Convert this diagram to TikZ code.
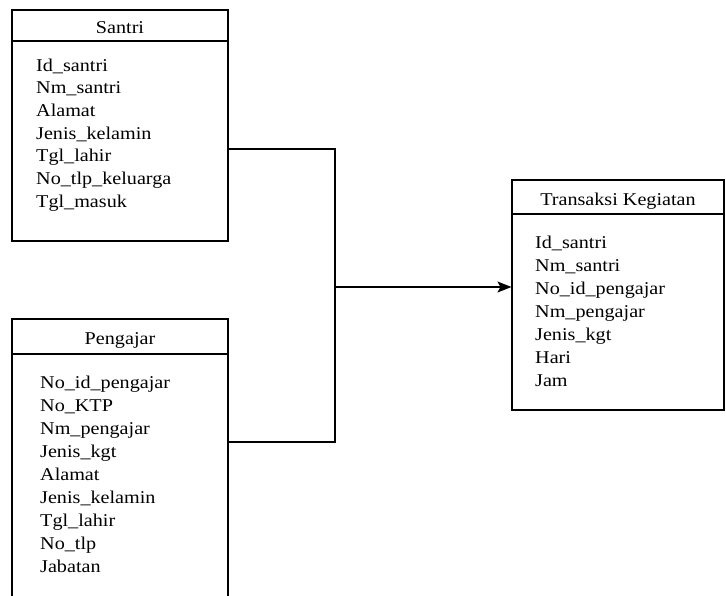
\documentclass[tikz,border=0pt]{standalone}
\usepackage{fontspec}
\setmainfont{Liberation Serif}[FakeStretch=1.12]
\usetikzlibrary{arrows.meta}
\tikzset{>={Stealth[length=14pt,width=11pt,inset=3pt]}}
\tikzset{
  tabel/.style={draw, line width=1.1pt, rectangle, inner sep=0pt, minimum width=216pt},
  judul/.style={tabel, text height=16pt, text depth=0pt},
  isi/.style={anchor=base west, inner sep=0pt}
}

\begin{document}
\begin{tikzpicture}[x=1pt, y=-1pt, font=\fontsize{18}{22.9}\selectfont]
\useasboundingbox (0,0) rectangle (726,595);
\clip (0,0) rectangle (726,595);
% santri
\node[judul, minimum height=31pt] (santriHead) at (120,25.5) {Santri};
\node[tabel, minimum height=200pt] (santri) at (120,141) {};
\foreach \txt [count=\i from 0] in {Id\_santri, Nm\_santri, Alamat, Jenis\_kelamin, Tgl\_lahir, No\_tlp\_keluarga, Tgl\_masuk}
  \node[isi] (santriRow\i) at (36,71+22.7*\i) {\txt};
% pengajar
\node[judul, minimum height=35pt] (pengajarHead) at (120,336.5) {Pengajar};
\node[tabel, minimum height=280pt] (pengajar) at (120,494) {};
\foreach \txt [count=\i from 0] in {No\_id\_pengajar, No\_KTP, Nm\_pengajar, Jenis\_kgt, Alamat, Jenis\_kelamin, Tgl\_lahir, No\_tlp, Jabatan}
  \node[isi] (pengajarRow\i) at (40,388+23*\i) {\txt};
% transaksi kegiatan
\node[judul, minimum width=212pt, minimum height=34pt] (kegiatanHead) at (618,197) {Transaksi Kegiatan};
\node[tabel, minimum width=212pt, minimum height=196pt] (kegiatan) at (618,312) {};
\foreach \txt [count=\i from 0] in {Id\_santri, Nm\_santri, No\_id\_pengajar, Nm\_pengajar, Jenis\_kgt, Hari, Jam}
  \node[isi] (kegiatanRow\i) at (535,248+23.1*\i) {\txt};
% garis penghubung
\coordinate (topBend) at (335,149);
\coordinate (botBend) at (335,442);
\coordinate (split) at (335,287);
\draw[line width=1.1pt] (santri.east |- topBend) -- (topBend) -- (botBend) -- (pengajar.east |- botBend);
\draw[->, line width=1.3pt] (split) -- (split -| kegiatan.west);
\end{tikzpicture}
\end{document}
